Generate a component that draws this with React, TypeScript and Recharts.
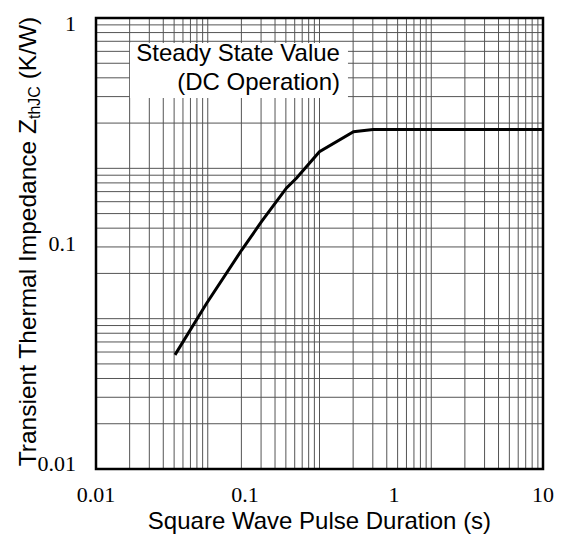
import React from 'react';
import { LineChart, Line, XAxis, YAxis, CartesianGrid, ReferenceArea } from 'recharts';

// Curve
const pulseDuration = [0.0339, 0.0553, 0.095, 0.129, 0.19, 0.222, 0.316, 0.535, 0.723, 10];
const thermalImpedance = [0.031, 0.0532, 0.0929, 0.125, 0.178, 0.1975, 0.26, 0.3206, 0.328, 0.328];

// Labelled axis ticks
const xTicks = [0.01, 0.1, 1, 10];
const yTicks = [0.01, 0.1, 1];

// Log-paper grid (4 decades across, 3 decades down)
const gridXTicks = [
  1, 2, 3, 4, 5, 6, 7, 8, 9,
  10, 20, 30, 40, 50, 60, 70, 80, 90,
  100, 200, 300, 400, 500, 600, 700, 800, 900,
  1000, 2000, 3000, 4000, 5000, 6000, 7000, 8000, 9000, 10000,
];
const gridYTicks = [
  1, 2, 3, 4, 5, 6, 7, 8, 9,
  10, 20, 30, 40, 50, 60, 70, 80, 90,
  100, 200, 300, 400, 500, 600, 700, 800, 900, 1000,
];

const annotationLines = ['Steady State Value', '(DC Operation)'];
const annotationX = [0.0169, 0.491];
const annotationY = [0.456, 0.811];

const data = pulseDuration.map((t, i) => ({ t, z: thermalImpedance[i] }));

const SERIF = '"Liberation Serif", "Times New Roman", serif';
const SANS = '"Liberation Sans", Arial, sans-serif';

const GX_DOMAIN: [number, number] = [1, 10000];
const GY_DOMAIN: [number, number] = [1, 1000];

const logFrac = (v: number, d: [number, number]) =>
  (Math.log10(v) - Math.log10(d[0])) / (Math.log10(d[1]) - Math.log10(d[0]));

const vGen = (props: any) => {
  const { xAxis, offset } = props || {};
  const s = xAxis && xAxis.scale;
  if (typeof s === 'function') {
    const a = s(GX_DOMAIN[0]);
    const b = s(GX_DOMAIN[1]);
    if (Number.isFinite(a) && Number.isFinite(b) && Math.abs(a - offset.left) < 2 && Math.abs(b - (offset.left + offset.width)) < 2) {
      return gridXTicks.map((v) => s(v));
    }
  }
  return gridXTicks.map((v) => offset.left + offset.width * logFrac(v, GX_DOMAIN));
};

const hGen = (props: any) => {
  const { yAxis, offset } = props || {};
  const s = yAxis && yAxis.scale;
  if (typeof s === 'function') {
    const a = s(GY_DOMAIN[0]);
    const b = s(GY_DOMAIN[1]);
    if (Number.isFinite(a) && Number.isFinite(b) && Math.abs(a - (offset.top + offset.height)) < 2 && Math.abs(b - offset.top) < 2) {
      return gridYTicks.map((v) => s(v));
    }
  }
  return gridYTicks.map((v) => offset.top + offset.height * (1 - logFrac(v, GY_DOMAIN)));
};

const XTick = (props: any) => {
  const { x, y, payload } = props;
  return (
    <text x={x} y={y} dy="0.71em" textAnchor="middle" fill="#000" fontFamily={SERIF} fontSize={22}>
      {String(payload.value)}
    </text>
  );
};

const YTick = (props: any) => {
  const { x, y, payload } = props;
  return (
    <text x={x} y={y} dy="0.35em" textAnchor="end" fill="#000" fontFamily={SERIF} fontSize={22}>
      {String(payload.value)}
    </text>
  );
};

const YTitle = (props: any) => {
  const vb = props.viewBox || { x: 0, y: 0, width: 0, height: 0 };
  const cx = vb.x + 28;
  const cy = vb.y + vb.height / 2 - 2;
  return (
    <text
      x={cx}
      y={cy}
      transform={`rotate(-90, ${cx}, ${cy})`}
      textAnchor="middle"
      fill="#000"
      fontFamily={SANS}
      fontSize={24.5}
    >
      <tspan>Transient Thermal Impedance Z</tspan>
      <tspan fontSize={16} dy={4}>thJC</tspan>
      <tspan dy={-4}> (K/W)</tspan>
    </text>
  );
};

const BoxText = (props: any) => {
  const vb = props.viewBox || { x: 0, y: 0, width: 0, height: 0 };
  const rx = vb.x + vb.width - 8;
  return (
    <g>
      <text x={rx} y={vb.y + 18} textAnchor="end" fill="#000" fontFamily={SANS} fontSize={24}>
        {annotationLines[0]}
      </text>
      <text x={rx} y={vb.y + 47} textAnchor="end" fill="#000" fontFamily={SANS} fontSize={24}>
        {annotationLines[1]}
      </text>
    </g>
  );
};

export default function App() {
  return (
    <LineChart
      width={557}
      height={526}
      data={data}
      margin={{ top: 10, right: 22, left: 0, bottom: 0 }}
    >
      <XAxis xAxisId="gx" type="number" scale="log" domain={GX_DOMAIN} ticks={gridXTicks} interval={0} allowDataOverflow hide />
      <YAxis yAxisId="gy" type="number" scale="log" domain={GY_DOMAIN} ticks={gridYTicks} interval={0} allowDataOverflow hide />
      <CartesianGrid
        xAxisId="gx"
        yAxisId="gy"
        stroke="#555"
        strokeWidth={1}
        verticalCoordinatesGenerator={vGen}
        horizontalCoordinatesGenerator={hGen}
      />
      <XAxis
        dataKey="t"
        type="number"
        scale="log"
        domain={[0.01, 10]}
        ticks={xTicks}
        interval={0}
        allowDataOverflow
        axisLine={false}
        tickLine={false}
        tickSize={0}
        tickMargin={17}
        height={65}
        tick={<XTick />}
        label={{ value: 'Square Wave Pulse Duration (s)', position: 'insideBottom', offset: 5, fill: '#000', fontSize: 24, fontFamily: SANS }}
      />
      <YAxis
        type="number"
        scale="log"
        domain={[0.00939, 1.054]}
        ticks={yTicks}
        interval={0}
        allowDataOverflow
        axisLine={false}
        tickLine={false}
        tickSize={0}
        tickMargin={20}
        width={88}
        tick={<YTick />}
        label={<YTitle />}
      />
      <ReferenceArea
        x1={annotationX[0]}
        x2={annotationX[1]}
        y1={annotationY[0]}
        y2={annotationY[1]}
        fill="#fff"
        fillOpacity={1}
        stroke="none"
        label={<BoxText />}
      />
      <ReferenceArea x1={0.01} x2={10} y1={0.00939} y2={1.054} fill="none" stroke="#000" strokeWidth={2.5} />
      <Line
        dataKey="z"
        type="linear"
        stroke="#000"
        strokeWidth={3}
        dot={false}
        isAnimationActive={false}
      />
    </LineChart>
  );
}
